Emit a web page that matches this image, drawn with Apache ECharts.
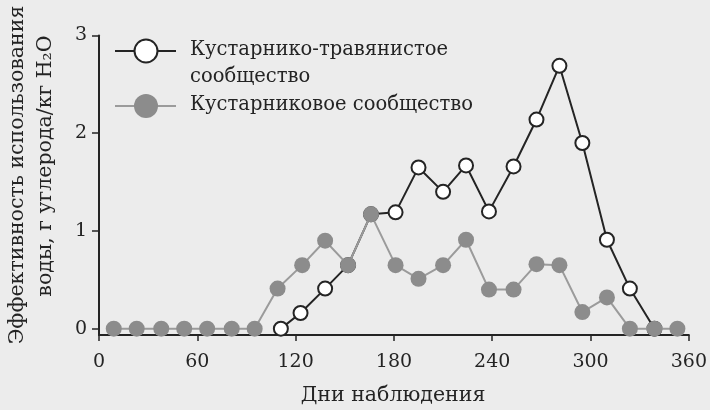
<!DOCTYPE html>
<html>
<head>
<meta charset="utf-8">
<script src="https://cdn.jsdelivr.net/npm/echarts@6/dist/echarts.min.js"></script>
<style>
  html, body { margin: 0; padding: 0; background: #ececec; }
  #chart { width: 710px; height: 410px; }
</style>
</head>
<body>
<div id="chart"></div>
<script>
// Observation days and water-use efficiency, g carbon / kg H2O
const shrubGrassDays = [111, 123, 138, 152, 166, 181, 195, 210, 224, 238, 253, 267, 281, 295, 310, 324, 339];
const shrubGrassValues = [0, 0.16, 0.41, 0.65, 1.17, 1.19, 1.65, 1.40, 1.67, 1.20, 1.66, 2.14, 2.69, 1.90, 0.91, 0.41, 0];

const shrubDays = [9, 23, 38, 52, 66, 81, 95, 109, 124, 138, 152, 166, 181, 195, 210, 224, 238, 253, 267, 281, 295, 310, 324, 339, 353];
const shrubValues = [0, 0, 0, 0, 0, 0, 0, 0.41, 0.65, 0.90, 0.65, 1.17, 0.65, 0.51, 0.65, 0.91, 0.40, 0.40, 0.66, 0.65, 0.17, 0.32, 0, 0, 0];

const xTicks = [0, 60, 120, 180, 240, 300, 360];
const yTicks = [0, 1, 2, 3];

const seriesNames = ['Кустарнико-травянистое', 'Кустарниковое сообщество'];
const xTitle = 'Дни наблюдения';
const yTitleLines = ['Эффективность использования', 'воды, г углерода/кг H₂O'];

const FONT = '"DejaVu Serif", "Liberation Serif", serif';
const INK = '#242424';
const GREY_LINE = '#9b9b9b';
const GREY_DOT = '#8c8c8c';

const zip = (xs, ys) => xs.map((x, i) => [x, ys[i]]);

const chart = echarts.init(document.getElementById('chart'), null, { renderer: 'canvas' });

chart.setOption({
  backgroundColor: '#ececec',
  animation: false,
  grid: { left: 99, right: 21, top: 35.5, bottom: 75, containLabel: false },
  xAxis: {
    type: 'value',
    min: xTicks[0],
    max: xTicks[xTicks.length - 1],
    interval: 60,
    axisLine: { onZero: false, lineStyle: { color: INK, width: 2 } },
    axisTick: { show: true, inside: false, length: 6, lineStyle: { color: INK, width: 1.5 } },
    axisLabel: { color: INK, fontFamily: FONT, fontSize: 19, margin: 18 },
    splitLine: { show: false }
  },
  yAxis: {
    type: 'value',
    min: -0.065,
    max: 3,
    axisLine: { show: true, lineStyle: { color: INK, width: 2 } },
    axisTick: { show: true, length: 7, customValues: yTicks, lineStyle: { color: INK, width: 1.5 } },
    axisLabel: { color: INK, fontFamily: FONT, fontSize: 19, margin: 12, customValues: yTicks },
    splitLine: { show: false }
  },
  series: [
    {
      name: seriesNames[0],
      type: 'line',
      data: zip(shrubGrassDays, shrubGrassValues),
      symbol: 'circle',
      symbolSize: 14,
      showAllSymbol: true,
      lineStyle: { color: INK, width: 2 },
      itemStyle: { color: '#ffffff', borderColor: INK, borderWidth: 2 },
      z: 2
    },
    {
      name: seriesNames[1],
      type: 'line',
      data: zip(shrubDays, shrubValues),
      symbol: 'circle',
      symbolSize: 16,
      showAllSymbol: true,
      lineStyle: { color: GREY_LINE, width: 2 },
      itemStyle: { color: GREY_DOT, borderWidth: 0 },
      z: 3
    }
  ],
  graphic: [
    // legend: open circles
    { type: 'line', shape: { x1: 115, y1: 51, x2: 176, y2: 51 }, style: { stroke: INK, lineWidth: 2 } },
    { type: 'circle', shape: { cx: 146, cy: 51, r: 11.5 }, style: { fill: '#ffffff', stroke: INK, lineWidth: 2 } },
    { type: 'text', x: 190, y: 50, style: { text: 'Кустарнико-травянистое', fontFamily: FONT, fontSize: 19.5, fill: INK, verticalAlign: 'middle' } },
    { type: 'text', x: 190, y: 77, style: { text: 'сообщество', fontFamily: FONT, fontSize: 19.5, fill: INK, verticalAlign: 'middle' } },
    // legend: filled circles
    { type: 'line', shape: { x1: 115, y1: 106, x2: 176, y2: 106 }, style: { stroke: GREY_LINE, lineWidth: 2 } },
    { type: 'circle', shape: { cx: 146, cy: 106, r: 12 }, style: { fill: GREY_DOT } },
    { type: 'text', x: 190, y: 105, style: { text: seriesNames[1], fontFamily: FONT, fontSize: 19.5, fill: INK, verticalAlign: 'middle' } },
    // axis titles
    { type: 'text', x: 393, y: 396, style: { text: xTitle, fontFamily: FONT, fontSize: 20.5, fill: INK, align: 'center', verticalAlign: 'middle' } },
    { type: 'text', x: 18, y: 175, rotation: Math.PI / 2, style: { text: yTitleLines[0], fontFamily: FONT, fontSize: 20.5, fill: INK, align: 'center', verticalAlign: 'middle' } },
    { type: 'text', x: 46, y: 166, rotation: Math.PI / 2, style: { text: yTitleLines[1], fontFamily: FONT, fontSize: 20.5, fill: INK, align: 'center', verticalAlign: 'middle' } }
  ]
});
</script>
</body>
</html>
